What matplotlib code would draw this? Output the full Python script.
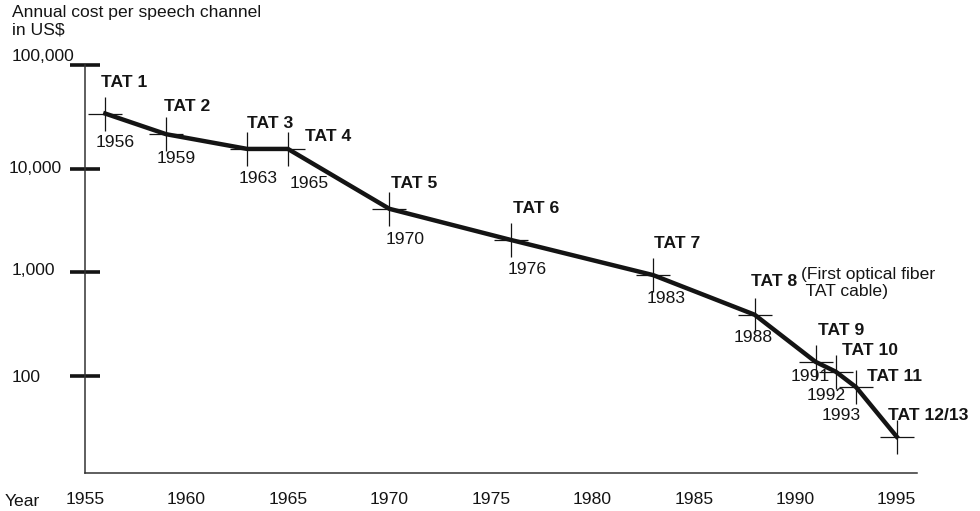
import matplotlib
matplotlib.use("Agg")
import matplotlib.pyplot as plt

plt.rcParams['font.family'] = ['Liberation Sans', 'DejaVu Sans']
plt.rcParams['font.size'] = 12.6

# transatlantic cables: year in service and annual cost per speech channel (US$)
cables = ["TAT 1", "TAT 2", "TAT 3", "TAT 4", "TAT 5", "TAT 6", "TAT 7",
          "TAT 8", "TAT 9", "TAT 10", "TAT 11", "TAT 12/13"]
years = [1956, 1959, 1963, 1965, 1970, 1976, 1983, 1988, 1991, 1992, 1993, 1995]
cost = [34000, 21500, 15500, 15500, 4100, 2050, 940, 390, 137, 110, 78, 26]
year_labels = ["1956", "1959", "1963", "1965", "1970", "1976", "1983",
               "1988", "1991", "1992", "1993", ""]

y_ticks = [100, 1000, 10000, 100000]
y_tick_labels = ["100", "1,000", "10,000", "100,000"]
x_ticks = [1955, 1960, 1965, 1970, 1975, 1980, 1985, 1990, 1995]

# label placement in pixels relative to each point
name_offsets = [(-4, 27), (-2, 23), (0, 21), (17, 8), (2, 21), (2, 27), (1, 27),
                (-4, 29), (2, 27), (6, 17), (11, 6), (-9, 17)]
year_offsets = [(10, -33), (10, -29), (11, -34), (21, -39), (16, -35), (16, -34),
                (13, -28), (-1, -27), (-5, -19), (-10, -28), (-15, -33), (0, 0)]
ytick_offsets = [(-73, -6), (-73, -3), (-76, -4), (-73, 4)]

ink = "#141414"

fig = plt.figure(figsize=(9.8, 5.11), dpi=100)
ax = fig.add_axes([85 / 980, 38 / 511, 832 / 980, 408 / 511])
ax.set_yscale("log")
ax.set_xlim(1955, 1996)
ax.set_ylim(11.6, 100000)

ax.plot(years, cost, color=ink, lw=3.2, solid_joinstyle="miter", zorder=3)
ax.plot(years, cost, ls="none", marker="+", ms=24, mew=0.9, color=ink, zorder=4)

for name, yr, c, (dx, dy) in zip(cables, years, cost, name_offsets):
    ax.annotate(name, (yr, c), xytext=(dx, dy), textcoords="offset pixels",
                ha="left", va="baseline", fontweight="bold", color=ink)
for lbl, yr, c, (dx, dy) in zip(year_labels, years, cost, year_offsets):
    if lbl:
        ax.annotate(lbl, (yr, c), xytext=(dx, dy), textcoords="offset pixels",
                    ha="center", va="baseline", color=ink)

ax.annotate("(First optical fiber\n TAT cable)", (years[7], cost[7]),
            xytext=(46, 48), textcoords="offset pixels", ha="left",
            va="top", linespacing=1.15, color=ink)

# axes
for side in ("top", "right"):
    ax.spines[side].set_visible(False)
for side in ("left", "bottom"):
    ax.spines[side].set_linewidth(1.1)
    ax.spines[side].set_color("#333333")

ax.set_yticks(y_ticks)
ax.yaxis.set_minor_locator(matplotlib.ticker.NullLocator())
ax.tick_params(axis="y", direction="inout", length=21, width=2.6,
               color=ink, labelleft=False)
for v, lbl, (dx, dy) in zip(y_ticks, y_tick_labels, ytick_offsets):
    ax.annotate(lbl, (0, v), xycoords=ax.get_yaxis_transform(), xytext=(dx, dy),
                textcoords="offset pixels", ha="left", va="baseline",
                color=ink, annotation_clip=False)

ax.set_xticks(x_ticks)
ax.set_xticklabels([str(x) for x in x_ticks])
ax.tick_params(axis="x", length=0, pad=14, colors=ink)

fig.text(5 / 980, 1 - 501 / 511, "Year", va="center", ha="left", color=ink)
fig.text(12 / 980, 1 - 5 / 511, "Annual cost per speech channel\nin US$",
         va="top", ha="left", color=ink)

fig.savefig("out.png", dpi=100)
